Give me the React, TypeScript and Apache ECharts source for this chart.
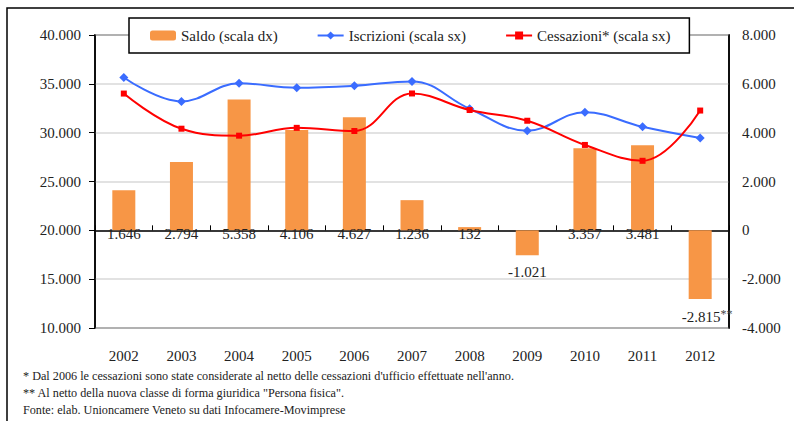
import React, { useEffect, useRef } from "react";
import * as echarts from "echarts";

const years = ["2002", "2003", "2004", "2005", "2006", "2007", "2008", "2009", "2010", "2011", "2012"];
const saldo = [1646, 2794, 5358, 4106, 4627, 1236, 132, -1021, 3357, 3481, -2815];
const iscrizioni = [35650, 33200, 35050, 34600, 34800, 35250, 32450, 30200, 32100, 30600, 29450];
const cessazioni = [34004, 30406, 29692, 30494, 30173, 34014, 32318, 31221, 28743, 27119, 32265];
const saldoNotes = ["", "", "", "", "", "", "", "", "", "", "**"];
const footnotes = [
  "* Dal 2006 le cessazioni sono state considerate al netto delle cessazioni d'ufficio effettuate nell'anno.",
  "** Al netto della nuova classe di forma giuridica \"Persona fisica\".",
  "Fonte: elab. Unioncamere Veneto su dati Infocamere-Movimprese",
];

const FONT = "Liberation Serif";

function fmt(v: number): string {
  const s = Math.abs(Math.round(v)).toString().replace(/\B(?=(\d{3})+(?!\d))/g, ".");
  return (v < 0 ? "-" : "") + s;
}

export default function App() {
  const ref = useRef<HTMLDivElement>(null);
  useEffect(() => {
    if (!ref.current) return;
    const chart = echarts.init(ref.current, null, { renderer: "svg" });
    const barData = saldo.map((v, i) => ({
      value: v,
      label: {
        show: true,
        position: "bottom",
        distance: v >= 0 ? -4 : 9,
        offset: saldoNotes[i] ? [7, 0] : [0, 0],
        formatter: () => (saldoNotes[i] ? `{a|${fmt(v)}}{b|${saldoNotes[i]}}` : `{a|${fmt(v)}}`),
        rich: {
          a: { fontFamily: FONT, fontSize: 15, color: "#222" },
          b: { fontFamily: FONT, fontSize: 12, color: "#444", verticalAlign: "top", padding: [0, 0, 6, 0] },
        },
      },
    }));
    chart.setOption({
      animation: false,
      textStyle: { fontFamily: FONT },
      grid: {
        left: 95,
        right: 65,
        top: 35,
        bottom: 93,
        show: true,
        borderColor: "#000",
        borderWidth: 1.5,
        backgroundColor: "transparent",
      },
      legend: {
        left: 129,
        top: 18,
        width: 562,
        height: 14,
        padding: [10, 19, 10, 21],
        itemGap: 39,
        itemWidth: 26,
        itemHeight: 10,
        borderColor: "#000",
        borderWidth: 1.5,
        backgroundColor: "#fff",
        textStyle: { fontFamily: FONT, fontSize: 15, color: "#222" },
        data: ["Saldo (scala dx)", "Iscrizioni (scala sx)", "Cessazioni* (scala sx)"],
      },
      xAxis: {
        type: "category",
        data: years,
        boundaryGap: true,
        axisLine: { lineStyle: { color: "#000", width: 1.5 } },
        axisTick: { show: true, inside: true, length: 5, lineStyle: { color: "#000" } },
        axisLabel: { fontFamily: FONT, fontSize: 15, color: "#222", margin: 20 },
      },
      yAxis: [
        {
          type: "value",
          min: 10000,
          max: 40000,
          interval: 5000,
          axisLine: { show: true, lineStyle: { color: "#000", width: 1.5 } },
          axisTick: { show: true, length: 6, lineStyle: { color: "#000" } },
          axisLabel: { fontFamily: FONT, fontSize: 15, color: "#222", margin: 14, formatter: (v: number) => fmt(v) },
          splitLine: { show: true, lineStyle: { color: "#d9d9d9", width: 1.5 } },
        },
        {
          type: "value",
          min: -4000,
          max: 8000,
          interval: 2000,
          position: "right",
          axisLine: { show: true, lineStyle: { color: "#000", width: 1.5 } },
          axisTick: { show: false },
          axisLabel: { fontFamily: FONT, fontSize: 15, color: "#222", margin: 13, formatter: (v: number) => fmt(v) },
          splitLine: { show: false },
        },
      ],
      series: [
        {
          name: "Saldo (scala dx)",
          type: "bar",
          yAxisIndex: 1,
          barWidth: 23,
          itemStyle: { color: "#F79646" },
          data: barData,
          z: 2,
        },
        {
          name: "Iscrizioni (scala sx)",
          type: "line",
          yAxisIndex: 0,
          smooth: 0.4,
          symbol: "diamond",
          symbolSize: 9,
          itemStyle: { color: "#3A6CFF" },
          lineStyle: { color: "#3A6CFF", width: 2 },
          data: iscrizioni,
          z: 3,
        },
        {
          name: "Cessazioni* (scala sx)",
          type: "line",
          yAxisIndex: 0,
          smooth: 0.4,
          symbol: "rect",
          symbolSize: 6,
          itemStyle: { color: "#FF0000" },
          lineStyle: { color: "#FF0000", width: 2 },
          data: cessazioni,
          z: 4,
        },
      ],
      graphic: [
        {
          type: "rect",
          shape: { x: 7, y: 8, width: 820, height: 440 },
          style: { fill: "none", stroke: "#000", lineWidth: 1.5 },
          silent: true,
        },
        ...footnotes.map((t, i) => ({
          type: "text",
          left: 23,
          top: 370 + i * 17,
          style: { text: t, fontFamily: FONT, fontSize: 12.2, fill: "#222" },
          silent: true,
        })),
      ],
    });
    return () => chart.dispose();
  }, []);
  return (
    <div
      ref={ref}
      style={{ position: "fixed", left: 0, top: 0, width: 794, height: 421, background: "#fff" }}
    />
  );
}
